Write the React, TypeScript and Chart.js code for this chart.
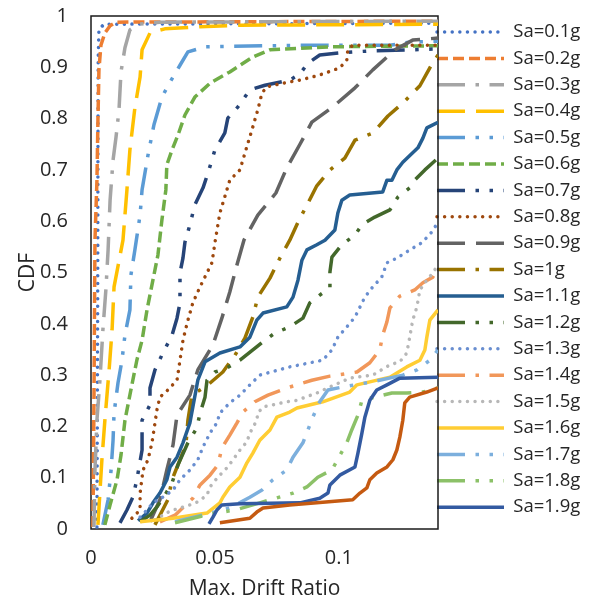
import React, { useEffect, useRef } from 'react';
import { Chart, registerables } from 'chart.js';

Chart.register(...registerables);

// ---- data (x = max drift ratio, y = CDF) ----
const seriesLabels = [
  'Sa=0.1g', 'Sa=0.2g', 'Sa=0.3g', 'Sa=0.4g', 'Sa=0.5g', 'Sa=0.6g', 'Sa=0.7g',
  'Sa=0.8g', 'Sa=0.9g', 'Sa=1g', 'Sa=1.1g', 'Sa=1.2g', 'Sa=1.3g', 'Sa=1.4g',
  'Sa=1.5g', 'Sa=1.6g', 'Sa=1.7g', 'Sa=1.8g', 'Sa=1.9g', 'Sa=2g',
];

const sa01 = [[0.0024, 0.004], [0.0025, 0.154], [0.0027, 0.446], [0.0028, 0.739], [0.0029, 0.914], [0.0032, 0.973], [0.0052, 0.984], [0.14, 0.986]];
const sa02 = [[0.0008, 0.004], [0.0012, 0.251], [0.0016, 0.563], [0.0024, 0.68], [0.0028, 0.797], [0.0032, 0.895], [0.004, 0.943], [0.0056, 0.967], [0.0077, 0.981], [0.0101, 0.988], [0.14, 0.99]];
const sa03 = [[0.0012, 0.004], [0.0016, 0.115], [0.0024, 0.212], [0.0036, 0.29], [0.0048, 0.388], [0.006, 0.466], [0.0069, 0.544], [0.0077, 0.641], [0.0089, 0.719], [0.0101, 0.764], [0.0113, 0.817], [0.0121, 0.891], [0.0137, 0.938], [0.0157, 0.973], [0.019, 0.984], [0.0278, 0.988], [0.14, 0.99]];
const sa04 = [[0.0028, 0.008], [0.0044, 0.135], [0.0056, 0.212], [0.0073, 0.31], [0.0085, 0.388], [0.0093, 0.472], [0.0129, 0.563], [0.0145, 0.661], [0.0157, 0.739], [0.0177, 0.821], [0.0198, 0.881], [0.0206, 0.934], [0.0238, 0.967], [0.0298, 0.975], [0.044, 0.979], [0.0601, 0.982], [0.14, 0.984]];
const sa05 = [[0.0048, 0.008], [0.0069, 0.057], [0.0081, 0.115], [0.0089, 0.173], [0.0093, 0.226], [0.0109, 0.285], [0.0125, 0.329], [0.0137, 0.378], [0.0157, 0.427], [0.0161, 0.495], [0.0177, 0.544], [0.0198, 0.612], [0.0206, 0.661], [0.023, 0.729], [0.0254, 0.788], [0.0286, 0.842], [0.0319, 0.871], [0.0359, 0.904], [0.0391, 0.93], [0.046, 0.94], [0.0843, 0.943], [0.1206, 0.943], [0.1286, 0.949], [0.14, 0.951]];
const sa06 = [[0.0056, 0.008], [0.0077, 0.047], [0.0105, 0.096], [0.0121, 0.144], [0.0137, 0.212], [0.0165, 0.281], [0.0185, 0.329], [0.0206, 0.368], [0.0226, 0.427], [0.0246, 0.476], [0.027, 0.534], [0.0286, 0.602], [0.0302, 0.661], [0.0306, 0.71], [0.0327, 0.739], [0.0351, 0.768], [0.0379, 0.807], [0.0419, 0.842], [0.048, 0.869], [0.056, 0.891], [0.0653, 0.92], [0.0722, 0.934], [0.0964, 0.94], [0.14, 0.942]];
const sa07 = [[0.0117, 0.012], [0.0145, 0.037], [0.0169, 0.062], [0.0185, 0.096], [0.0206, 0.154], [0.0206, 0.212], [0.0238, 0.242], [0.0238, 0.275], [0.0258, 0.31], [0.0286, 0.339], [0.0327, 0.378], [0.0347, 0.411], [0.0359, 0.441], [0.0359, 0.499], [0.0371, 0.528], [0.0379, 0.559], [0.0399, 0.593], [0.0419, 0.632], [0.0452, 0.665], [0.0472, 0.694], [0.05, 0.739], [0.054, 0.772], [0.0552, 0.801], [0.0593, 0.823], [0.0641, 0.856], [0.0702, 0.865], [0.0802, 0.875], [0.0843, 0.887], [0.0875, 0.908], [0.0923, 0.924], [0.1004, 0.928], [0.1125, 0.932], [0.1286, 0.934], [0.14, 0.936]];
const sa08 = [[0.0165, 0.021], [0.0198, 0.037], [0.0198, 0.07], [0.021, 0.115], [0.023, 0.135], [0.0246, 0.168], [0.0266, 0.232], [0.0278, 0.257], [0.031, 0.271], [0.0347, 0.29], [0.0359, 0.329], [0.0371, 0.368], [0.0391, 0.407], [0.0411, 0.441], [0.044, 0.472], [0.0488, 0.519], [0.05, 0.558], [0.052, 0.616], [0.056, 0.68], [0.0601, 0.7], [0.0633, 0.752], [0.0653, 0.784], [0.0673, 0.817], [0.069, 0.85], [0.071, 0.862], [0.0774, 0.869], [0.0843, 0.875], [0.0923, 0.885], [0.1004, 0.899], [0.1032, 0.914], [0.1036, 0.934], [0.1056, 0.943], [0.14, 0.943]];
const sa09 = [[0.0238, 0.014], [0.0278, 0.057], [0.0306, 0.115], [0.0331, 0.164], [0.0347, 0.222], [0.0399, 0.261], [0.0431, 0.31], [0.0492, 0.359], [0.0528, 0.411], [0.056, 0.462], [0.0589, 0.515], [0.0617, 0.563], [0.0673, 0.612], [0.0746, 0.655], [0.079, 0.704], [0.0843, 0.75], [0.0891, 0.793], [0.0976, 0.823], [0.1065, 0.86], [0.1137, 0.895], [0.1226, 0.934], [0.1298, 0.953], [0.14, 0.957]];
const sa10 = [[0.0258, 0.008], [0.031, 0.057], [0.0327, 0.096], [0.0359, 0.135], [0.0383, 0.164], [0.0391, 0.212], [0.0407, 0.261], [0.0472, 0.281], [0.0532, 0.306], [0.0581, 0.339], [0.0621, 0.372], [0.0653, 0.413], [0.0673, 0.452], [0.0722, 0.489], [0.0762, 0.528], [0.0802, 0.563], [0.0835, 0.598], [0.0875, 0.635], [0.0911, 0.669], [0.0964, 0.7], [0.1024, 0.723], [0.1065, 0.758], [0.1137, 0.772], [0.1198, 0.805], [0.1262, 0.832], [0.1327, 0.864], [0.1367, 0.899], [0.14, 0.924]];
const sa11 = [[0.019, 0.016], [0.0226, 0.031], [0.025, 0.051], [0.0278, 0.07], [0.0306, 0.096], [0.0319, 0.121], [0.0347, 0.14], [0.0371, 0.168], [0.0399, 0.207], [0.0411, 0.238], [0.0431, 0.29], [0.046, 0.326], [0.052, 0.343], [0.0601, 0.355], [0.0641, 0.374], [0.0669, 0.407], [0.0694, 0.421], [0.079, 0.433], [0.0815, 0.452], [0.0835, 0.485], [0.0851, 0.524], [0.0871, 0.544], [0.0911, 0.554], [0.0944, 0.563], [0.0984, 0.583], [0.0996, 0.616], [0.1012, 0.641], [0.1044, 0.651], [0.1177, 0.657], [0.1194, 0.68], [0.1214, 0.68], [0.1234, 0.7], [0.1258, 0.715], [0.1319, 0.743], [0.1339, 0.762], [0.1355, 0.782], [0.14, 0.793]];
const sa12 = [[0.0198, 0.014], [0.0238, 0.027], [0.0266, 0.043], [0.0298, 0.066], [0.0327, 0.09], [0.0351, 0.125], [0.0391, 0.168], [0.0427, 0.197], [0.044, 0.226], [0.046, 0.257], [0.0468, 0.29], [0.05, 0.306], [0.0548, 0.314], [0.0601, 0.329], [0.0653, 0.349], [0.0702, 0.368], [0.0742, 0.382], [0.0802, 0.394], [0.0855, 0.411], [0.0883, 0.441], [0.0923, 0.456], [0.0964, 0.47], [0.0964, 0.501], [0.0972, 0.53], [0.1012, 0.554], [0.1065, 0.573], [0.1093, 0.593], [0.1145, 0.608], [0.1206, 0.622], [0.1238, 0.647], [0.1286, 0.665], [0.1306, 0.68], [0.1347, 0.7], [0.14, 0.723]];
const sa13 = [[0.0198, 0.023], [0.0226, 0.037], [0.025, 0.051], [0.029, 0.062], [0.0331, 0.076], [0.0359, 0.096], [0.0399, 0.115], [0.0431, 0.135], [0.0452, 0.16], [0.048, 0.187], [0.0508, 0.207], [0.052, 0.226], [0.056, 0.246], [0.0601, 0.261], [0.0641, 0.281], [0.0681, 0.3], [0.0802, 0.316], [0.0935, 0.329], [0.0972, 0.349], [0.0996, 0.374], [0.1032, 0.394], [0.1065, 0.413], [0.1105, 0.452], [0.1137, 0.472], [0.1173, 0.491], [0.1194, 0.519], [0.1234, 0.528], [0.1286, 0.544], [0.1335, 0.558], [0.1375, 0.579], [0.14, 0.598]];
const sa14 = [[0.0278, 0.014], [0.0339, 0.027], [0.0411, 0.06], [0.044, 0.086], [0.048, 0.105], [0.0512, 0.125], [0.0528, 0.158], [0.056, 0.183], [0.0589, 0.207], [0.0613, 0.228], [0.0661, 0.248], [0.0714, 0.261], [0.079, 0.275], [0.0831, 0.281], [0.0891, 0.29], [0.0964, 0.298], [0.1073, 0.306], [0.1125, 0.324], [0.1165, 0.349], [0.1177, 0.378], [0.1194, 0.404], [0.1206, 0.431], [0.1246, 0.454], [0.1306, 0.466], [0.1339, 0.48], [0.1379, 0.491], [0.14, 0.509]];
const sa15 = [[0.0258, 0.018], [0.0319, 0.035], [0.0359, 0.041], [0.0399, 0.047], [0.0431, 0.053], [0.0468, 0.066], [0.048, 0.082], [0.0512, 0.101], [0.0548, 0.119], [0.0573, 0.135], [0.0601, 0.154], [0.0629, 0.17], [0.0641, 0.187], [0.0669, 0.212], [0.0673, 0.226], [0.0694, 0.238], [0.0734, 0.242], [0.079, 0.248], [0.0831, 0.251], [0.0911, 0.265], [0.0964, 0.277], [0.1044, 0.294], [0.1137, 0.3], [0.1206, 0.32], [0.1246, 0.326], [0.1274, 0.343], [0.1286, 0.374], [0.1298, 0.407], [0.1315, 0.433], [0.1327, 0.466], [0.1355, 0.485], [0.1379, 0.499], [0.14, 0.515]];
const sa16 = [[0.0198, 0.014], [0.0331, 0.021], [0.0468, 0.031], [0.052, 0.051], [0.0532, 0.062], [0.056, 0.082], [0.0601, 0.101], [0.0629, 0.129], [0.0653, 0.148], [0.0681, 0.173], [0.0722, 0.193], [0.075, 0.218], [0.0802, 0.228], [0.0831, 0.236], [0.0935, 0.248], [0.1044, 0.267], [0.1073, 0.281], [0.1206, 0.296], [0.1274, 0.316], [0.1327, 0.329], [0.1347, 0.349], [0.1355, 0.374], [0.1367, 0.407], [0.14, 0.427]];
const sa17 = [[0.0339, 0.014], [0.0468, 0.029], [0.056, 0.041], [0.0641, 0.062], [0.069, 0.076], [0.0734, 0.096], [0.079, 0.115], [0.0815, 0.14], [0.0855, 0.168], [0.0895, 0.218], [0.0923, 0.248], [0.0956, 0.271], [0.1016, 0.277], [0.1137, 0.287], [0.1258, 0.3], [0.1315, 0.31], [0.1367, 0.329], [0.14, 0.349]];
const sa18 = [[0.0339, 0.012], [0.048, 0.029], [0.0581, 0.037], [0.0681, 0.051], [0.0815, 0.07], [0.0871, 0.082], [0.0915, 0.101], [0.0972, 0.115], [0.1032, 0.168], [0.1052, 0.193], [0.1077, 0.222], [0.1093, 0.251], [0.1214, 0.265], [0.1274, 0.265], [0.1339, 0.267], [0.14, 0.275]];
const sa19 = [[0.0476, 0.01], [0.0492, 0.023], [0.0508, 0.037], [0.0528, 0.047], [0.0601, 0.049], [0.0843, 0.051], [0.0923, 0.06], [0.0956, 0.07], [0.0964, 0.086], [0.1004, 0.105], [0.1065, 0.121], [0.1077, 0.148], [0.1093, 0.187], [0.1105, 0.218], [0.1125, 0.251], [0.1153, 0.271], [0.1194, 0.281], [0.1246, 0.294], [0.14, 0.296]];
const sa20 = [[0.052, 0.012], [0.0641, 0.021], [0.0669, 0.033], [0.0694, 0.041], [0.0802, 0.047], [0.1056, 0.057], [0.1085, 0.07], [0.1113, 0.08], [0.1125, 0.096], [0.1153, 0.109], [0.1194, 0.121], [0.1218, 0.135], [0.1234, 0.154], [0.1246, 0.179], [0.1258, 0.212], [0.1266, 0.246], [0.1286, 0.257], [0.1355, 0.267], [0.14, 0.275]];

const seriesValues = [sa01, sa02, sa03, sa04, sa05, sa06, sa07, sa08, sa09, sa10, sa11, sa12, sa13, sa14, sa15, sa16, sa17, sa18, sa19, sa20];

const xMin = 0;
const xMax = 0.14;
const xStep = 0.05;
const yMin = 0;
const yMax = 1;
const yStep = 0.1;
const xTitle = 'Max. Drift Ratio';
const yTitle = 'CDF';
const legendCount = 19; // the last series is not listed in the legend

// ---- styles ----
const colors = [
  '#4472C4', '#ED7D31', '#A5A5A5', '#FFC000', '#5B9BD5', '#70AD47', '#264478',
  '#9E480E', '#636363', '#997300', '#255E91', '#43682B', '#698ED0', '#F1975A',
  '#B7B7B7', '#FFCD33', '#7CAFDD', '#8CC168', '#335AA1', '#C55A11',
];
const kinds = [
  'dot', 'dash', 'lngDashDot', 'lngDash', 'lngDashDotDot', 'dash', 'lngDashDotDot',
  'dot', 'lngDash', 'lngDashDot', 'solid', 'lngDashDotDot', 'dot', 'lngDashDot',
  'dot', 'solid', 'lngDashDotDot', 'lngDashDotDot', 'solid', 'solid',
];
const LW = 3.5;
const dashFor = (k: string): number[] => {
  switch (k) {
    case 'dot': return [0.01, 7.6];
    case 'dash': return [11, 5];
    case 'lngDash': return [28, 11];
    case 'lngDashDot': return [28, 10.5, 3.5, 10.5];
    case 'lngDashDotDot': return [28, 10.5, 3.5, 10.5, 3.5, 10.5];
    default: return [];
  }
};

const FONT = "'Open Sans', 'Noto Sans', sans-serif";
const TEXT = '#262626';
const LEGEND_FONT = 18.5;
const LEGEND_PAD = 26.4 - LEGEND_FONT;

const fmt = (v: number) => String(Number(Number(v).toFixed(3)));

const framePlugin = {
  id: 'frame',
  beforeDatasetsDraw(chart: any) {
    const { ctx, chartArea } = chart;
    ctx.save();
    ctx.strokeStyle = '#1a1a1a';
    ctx.lineWidth = 1.5;
    ctx.strokeRect(chartArea.left, chartArea.top, chartArea.right - chartArea.left, chartArea.bottom - chartArea.top);
    ctx.restore();
  },
};

const legendPlacePlugin = {
  id: 'legendPlace',
  beforeDraw(chart: any) {
    const lg = chart.legend;
    if (!lg) return;
    const pad = lg.options.labels.padding;
    const w = lg.width;
    lg.left = chart.chartArea.right - 1 - pad;
    lg.right = lg.left + w;
    lg.top = chart.chartArea.top - 2.9;
    lg.bottom = chart.chartArea.bottom - 2.9;
  },
};

export default function App() {
  const ref = useRef<HTMLCanvasElement | null>(null);

  useEffect(() => {
    if (!ref.current) return;
    const datasets = seriesValues.map((vals, i) => ({
      label: seriesLabels[i],
      data: vals.map(([x, y]) => ({ x, y })),
      borderColor: colors[i],
      backgroundColor: colors[i],
      borderWidth: LW,
      borderDash: dashFor(kinds[i]),
      borderCapStyle: kinds[i] === 'dot' ? 'round' : 'butt',
      borderJoinStyle: 'round',
      pointRadius: 0,
      pointHoverRadius: 0,
      fill: false,
      tension: 0,
      order: 100 - i,
    }));

    const chart = new Chart(ref.current, {
      type: 'line',
      data: { datasets } as any,
      options: {
        animation: false,
        responsive: true,
        maintainAspectRatio: false,
        devicePixelRatio: 1,
        events: [],
        layout: { padding: { top: 16, left: 12, right: 0, bottom: 0 } },
        font: { family: FONT, size: 20 },
        color: TEXT,
        scales: {
          x: {
            type: 'linear',
            min: xMin,
            max: xMax,
            grid: { display: false, drawTicks: false },
            border: { display: false },
            ticks: {
              stepSize: xStep,
              includeBounds: false,
              padding: 17,
              color: TEXT,
              font: { family: FONT, size: 20 },
              callback: (v: any) => fmt(v),
            },
            title: {
              display: true,
              text: xTitle,
              color: TEXT,
              font: { family: FONT, size: 21 },
              padding: { top: 4, bottom: 3 },
            },
            afterFit(scale: any) { scale.height = 76; },
          },
          y: {
            type: 'linear',
            min: yMin,
            max: yMax,
            grid: { display: false, drawTicks: false },
            border: { display: false },
            ticks: {
              stepSize: yStep,
              padding: 23,
              color: TEXT,
              font: { family: FONT, size: 20 },
              callback: (v: any) => fmt(v),
            },
            title: {
              display: true,
              text: yTitle,
              color: TEXT,
              font: { family: FONT, size: 21 },
              padding: { top: 3, bottom: 0 },
            },
            afterFit(scale: any) {
              scale.width = 79;
              scale.paddingTop = 10;
              scale.paddingBottom = 10;
            },
          },
        },
        plugins: {
          tooltip: { enabled: false },
          legend: {
            display: true,
            position: 'right',
            fullSize: false,
            maxWidth: 154,
            labels: {
              usePointStyle: true,
              pointStyle: 'line',
              pointStyleWidth: 67,
              padding: LEGEND_PAD,
              color: TEXT,
              font: { family: FONT, size: LEGEND_FONT },
              generateLabels: (c: any) => c.data.datasets.map((ds: any, i: number) => ({
                text: ds.label,
                datasetIndex: i,
                fillStyle: 'rgba(0,0,0,0)',
                strokeStyle: ds.borderColor,
                lineWidth: ds.borderWidth,
                lineDash: ds.borderDash,
                lineCap: ds.borderCapStyle,
                lineJoin: 'miter',
                pointStyle: 'line',
                hidden: false,
                fontColor: TEXT,
              })),
              filter: (item: any) => item.datasetIndex < legendCount,
              sort: (a: any, b: any) => a.datasetIndex - b.datasetIndex,
            },
          },
        },
      } as any,
      plugins: [framePlugin, legendPlacePlugin],
    });
    return () => chart.destroy();
  }, []);

  return (
    <div style={{ position: 'absolute', left: 0, top: 0, width: 592, height: 605, background: '#fff' }}>
      <canvas ref={ref} />
    </div>
  );
}
